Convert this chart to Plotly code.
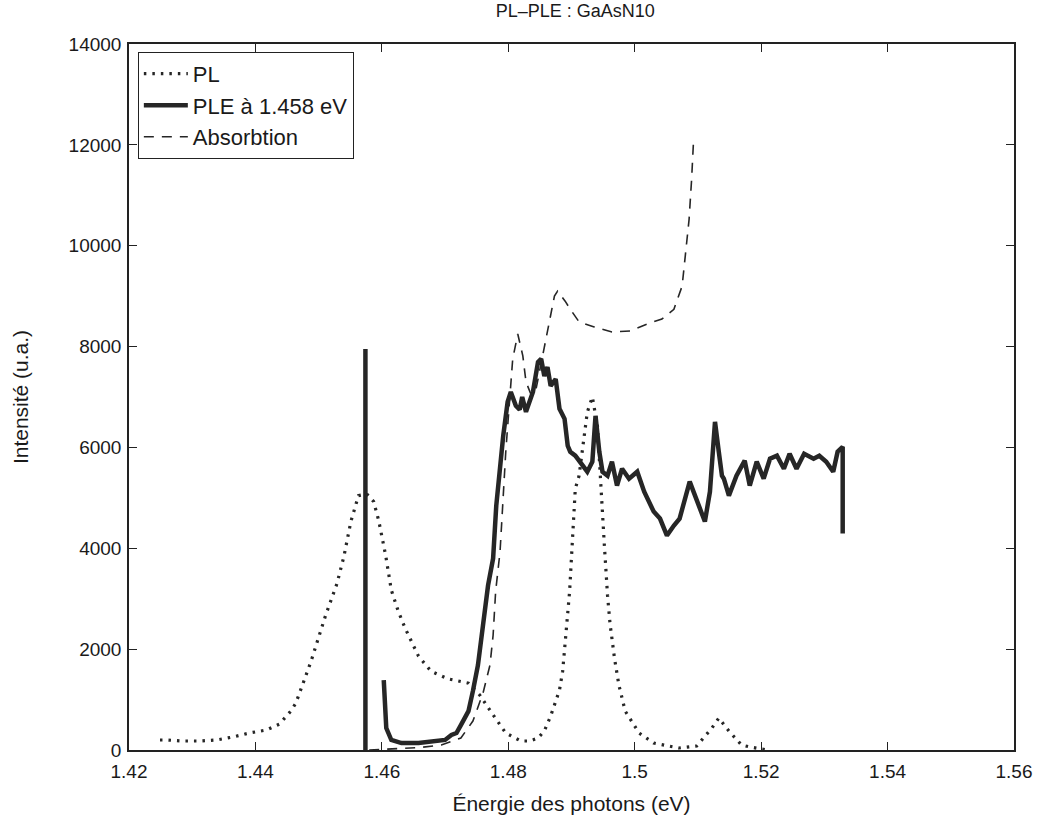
import plotly.graph_objects as go

# ---------------- data ----------------
pl_x = [1.4249, 1.4260, 1.4285, 1.4312, 1.4338, 1.4364, 1.4390, 1.4417, 1.4438, 1.4456,
        1.4464, 1.4488, 1.4511, 1.4529, 1.4540, 1.4551, 1.4563, 1.4576, 1.4587, 1.4595,
        1.4606, 1.4615, 1.4626, 1.4637, 1.4658, 1.4678, 1.4705, 1.4737, 1.4755, 1.4765,
        1.4773, 1.4796, 1.4810, 1.4820, 1.4834, 1.4847, 1.4857, 1.4867, 1.4881, 1.4886,
        1.4891, 1.4897, 1.4906, 1.4912, 1.4925, 1.4933, 1.4941, 1.4946, 1.4952, 1.4957,
        1.4961, 1.4968, 1.4975, 1.4985, 1.4999, 1.5007, 1.5030, 1.5070, 1.5098, 1.5122,
        1.5133, 1.5149, 1.5169, 1.5182, 1.5210]
pl_y = [198, 198, 178, 178, 198, 257, 336, 396, 514, 771,
        930, 1760, 2670, 3300, 3840, 4530, 5045, 5080, 4925, 4550,
        3860, 3170, 2750, 2410, 1860, 1560, 1410, 1325, 1088, 890,
        750, 336, 237, 178, 178, 237, 376, 672, 1187, 1563,
        2275, 3145, 5180, 5440, 6700, 7000, 6430, 5240, 4055, 3066,
        2500, 1820, 1286, 771, 475, 336, 138, 40, 80, 435,
        633, 376, 100, 60, 0]

ple_x = [1.4574, 1.4574, None,
         1.4603, 1.4607, 1.4615, 1.4631, 1.4658, 1.4690, 1.4700, 1.4710, 1.4718, 1.4725,
         1.4737, 1.4744, 1.4752, 1.4760, 1.4768, 1.4776, 1.4781, 1.4792, 1.4799, 1.4804,
         1.4812, 1.4818, 1.4822, 1.4828, 1.4834, 1.4839, 1.4847, 1.4852, 1.4857, 1.4862,
         1.4867, 1.4875, 1.4881, 1.4889, 1.4894, 1.4898, 1.4906, 1.4917, 1.4925, 1.4933,
         1.4938, 1.4944, 1.4949, 1.4957, 1.4964, 1.4972, 1.4980, 1.4991, 1.5004, 1.5015,
         1.5030, 1.5040, 1.5051, 1.5062, 1.5071, 1.5087, 1.5098, 1.5111, 1.5119, 1.5127,
         1.5133, 1.5138, 1.5141, 1.5149, 1.5161, 1.5174, 1.5182, 1.5193, 1.5204, 1.5214,
         1.5225, 1.5236, 1.5245, 1.5256, 1.5268, 1.5283, 1.5292, 1.5303, 1.5314, 1.5321,
         1.5329, 1.5329]
ple_y = [0, 7950, None,
         1385, 435, 198, 138, 138, 198, 200, 297, 336, 495,
         771, 1167, 1681, 2473, 3264, 3800, 4847, 6231, 6904, 7100,
         6825, 6750, 7000, 6706, 6900, 7100, 7694, 7755, 7417, 7595,
         7220, 7358, 6765, 6567, 6033, 5915, 5836, 5638, 5519, 5717,
         6627, 5915, 5519, 5440, 5717, 5242, 5578, 5380, 5519, 5123,
         4728, 4589, 4253, 4451, 4589, 5321, 4985, 4530, 5123, 6508,
         5915, 5440, 5380, 5044, 5440, 5737, 5242, 5717, 5380, 5776,
         5836, 5578, 5875, 5578, 5875, 5776, 5836, 5717, 5519, 5915,
         6013, 4292]

abs_x = [1.4580, 1.4620, 1.4660, 1.4694, 1.4725, 1.4744, 1.4760, 1.4771, 1.4776, 1.4780,
         1.4787, 1.4796, 1.4807, 1.4815, 1.4823, 1.4828, 1.4836, 1.4843, 1.4857, 1.4865,
         1.4873, 1.4878, 1.4890, 1.4898, 1.4912, 1.4936, 1.4964, 1.4993, 1.5020, 1.5043,
         1.5062, 1.5075, 1.5079, 1.5086, 1.5090, 1.5093]
abs_y = [0, 20, 50, 100, 237, 574, 1128, 1681, 2275, 3145,
         3937, 5915, 7755, 8250, 7815, 7300, 7050, 7100, 8010, 8545,
         9000, 9100, 8900, 8740, 8490, 8390, 8290, 8310, 8450, 8545,
         8740, 9200, 9730, 10520, 11315, 12070]

x_ticks = [1.42, 1.44, 1.46, 1.48, 1.5, 1.52, 1.54, 1.56]
x_ticklabels = ["1.42", "1.44", "1.46", "1.48", "1.5", "1.52", "1.54", "1.56"]
y_ticks = [0, 2000, 4000, 6000, 8000, 10000, 12000, 14000]
y_ticklabels = ["0", "2000", "4000", "6000", "8000", "10000", "12000", "14000"]

# ---------------- figure ----------------
ink = "#262626"
fig = go.Figure()
fig.add_trace(go.Scatter(x=pl_x, y=pl_y, mode="lines", name="PL",
                         line=dict(color=ink, width=3.2, dash="2.5px,6px")))
fig.add_trace(go.Scatter(x=ple_x, y=ple_y, mode="lines", name="PLE à 1.458 eV",
                         line=dict(color=ink, width=4.5), connectgaps=False))
fig.add_trace(go.Scatter(x=abs_x, y=abs_y, mode="lines", name="Absorbtion",
                         line=dict(color=ink, width=1.6, dash="10px,8px")))

font_family = "Liberation Sans, Arial, Helvetica, sans-serif"
fig.update_layout(
    width=1044, height=824,
    paper_bgcolor="white", plot_bgcolor="white",
    margin=dict(l=129, r=25, t=44, b=72),
    font=dict(family=font_family, color="#1a1a1a", size=18),
    title=dict(text="PL–PLE : GaAsN10", x=0.551, xanchor="center",
               y=1.0, yanchor="top", pad=dict(t=4, b=0, l=0, r=0),
               font=dict(size=18)),
    showlegend=True,
    legend=dict(x=0.01, y=0.989, xanchor="left", yanchor="top",
                bgcolor="white", bordercolor="#222", borderwidth=1,
                font=dict(size=22), tracegroupgap=0, itemwidth=44,
                traceorder="normal"),
    xaxis=dict(range=[1.42, 1.56], tickvals=x_ticks, ticktext=x_ticklabels,
               showgrid=False, zeroline=False, showline=True, linecolor="#222",
               linewidth=1.5, mirror="ticks", ticks="inside", ticklen=8,
               tickcolor="#222", tickfont=dict(size=19), ticklabelstandoff=3,
               ticklabeloverflow="allow",
               title=dict(text="Énergie des photons (eV)", font=dict(size=21), standoff=16)),
    yaxis=dict(range=[0, 14000], tickvals=y_ticks, ticktext=y_ticklabels,
               showgrid=False, zeroline=False, showline=True, linecolor="#222",
               linewidth=1.5, mirror="ticks", ticks="inside", ticklen=8,
               tickcolor="#222", tickfont=dict(size=19), ticklabelstandoff=2,
               title=dict(text="Intensité (u.a.)", font=dict(size=21), standoff=34)),
)

fig.write_html("out.html", config={"displayModeBar": False},
               post_script="document.body.style.margin='0';document.body.style.overflow='hidden';")
